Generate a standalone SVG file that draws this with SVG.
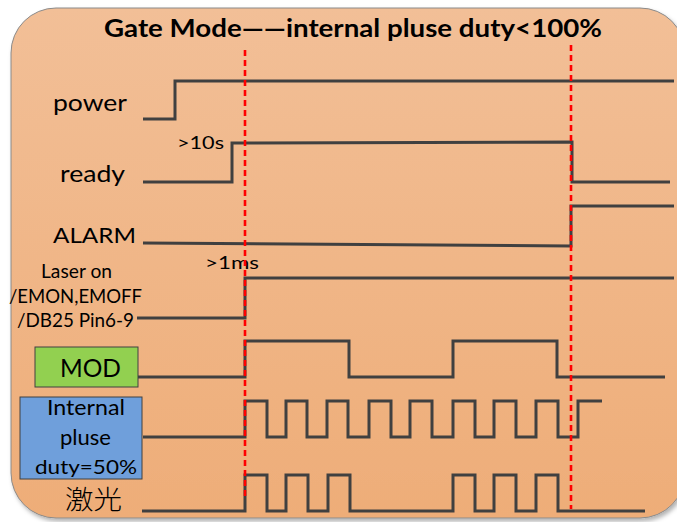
<svg xmlns="http://www.w3.org/2000/svg" width="677" height="522" viewBox="0 0 677 522">
<style>
.sig{fill:none;stroke:#404040;stroke-width:3;stroke-linejoin:miter}
.lbl{font-family:Lato,"Liberation Sans",sans-serif;fill:#000}
.ttl{font-family:Lato,"Liberation Sans",sans-serif;font-weight:bold;fill:#000}
.cjk{font-family:"Noto Sans CJK SC","Noto Sans CJK JP",serif;font-weight:300;fill:#000}
.mark{stroke:#FF0000;stroke-width:2.6;stroke-dasharray:6 4;fill:none}
.box{stroke:#404040;stroke-width:1}
</style>
<defs>
<linearGradient id="bg" x1="0" y1="0" x2="0" y2="1">
<stop offset="0" stop-color="#F2BF97"/>
<stop offset="1" stop-color="#EEAD78"/>
</linearGradient>
<filter id="sh" x="-5%" y="-5%" width="110%" height="110%">
<feDropShadow dx="2" dy="3" stdDeviation="2" flood-color="#000" flood-opacity="0.3"/>
</filter>
</defs>
<rect width="677" height="522" fill="#fff"/>
<rect id="panel" x="11" y="8" width="674" height="510" rx="45" ry="45" fill="url(#bg)" stroke="#8A8A8A" stroke-width="1" filter="url(#sh)"/>
<text id="title" class="ttl" x="104" y="37" font-size="25" textLength="498" lengthAdjust="spacingAndGlyphs">Gate Mode——internal pluse duty&lt;100%</text>

<g id="power">
<text class="lbl" x="53" y="111" font-size="23" textLength="74" lengthAdjust="spacingAndGlyphs">power</text>
<path class="sig" d="M143,119 H175 V81 H674"/>
</g>
<g id="ready">
<text class="lbl" x="60" y="182" font-size="23" textLength="65" lengthAdjust="spacingAndGlyphs">ready</text>
<text class="lbl" x="177" y="149" font-size="17.5" textLength="47" lengthAdjust="spacingAndGlyphs">&gt;10s</text>
<path class="sig" d="M143,182 H232 V143 L572,142 V182 H670"/>
</g>
<g id="alarm">
<text class="lbl" x="53" y="243" font-size="22" textLength="83" lengthAdjust="spacingAndGlyphs">ALARM</text>
<path class="sig" d="M143,243 L571,246 V206 H674"/>
</g>
<g id="laser-on">
<text class="lbl" x="41" y="278" font-size="19.5" textLength="71" lengthAdjust="spacingAndGlyphs">Laser on</text>
<text class="lbl" x="9" y="303" font-size="20" textLength="133" lengthAdjust="spacingAndGlyphs">/EMON,EMOFF</text>
<text class="lbl" x="17" y="327" font-size="20" textLength="117" lengthAdjust="spacingAndGlyphs">/DB25 Pin6-9</text>
<text class="lbl" x="205" y="269" font-size="17.5" textLength="54" lengthAdjust="spacingAndGlyphs">&gt;1ms</text>
<path class="sig" d="M137,318 H245 V278 H674"/>
</g>
<g id="mod">
<rect class="box" x="35" y="347" width="103" height="40" fill="#92D050"/>
<text class="lbl" x="60" y="377" font-size="24.5" textLength="61" lengthAdjust="spacingAndGlyphs">MOD</text>
<path class="sig" d="M138,377 H245 V341 H349 V377 H453 V341 H557 V377 H665"/>
</g>
<g id="internal-pulse">
<rect class="box" x="20" y="397" width="122" height="82" fill="#6F9FDB"/>
<text class="lbl" x="47" y="415" font-size="21" textLength="78" lengthAdjust="spacingAndGlyphs">Internal</text>
<text class="lbl" x="60" y="445" font-size="21" textLength="51" lengthAdjust="spacingAndGlyphs">pluse</text>
<text class="lbl" x="35" y="474" font-size="20" textLength="102" lengthAdjust="spacingAndGlyphs">duty=50%</text>
<path class="sig" d="M143,437 H245 V401 H267 V437 H286 V401 H307 V437 H327 V401 H348 V437 H369 V401 H391 V437 H410 V401 H432 V437 H453 V401 H475 V437 H494 V401 H516 V437 H536 V401 H558 V437 H578 V401 H602"/>
</g>
<g id="laser">
<text class="cjk" x="65" y="509" font-size="26" textLength="57" lengthAdjust="spacingAndGlyphs">激光</text>
<path class="sig" d="M142,511 H245 V475 H267 V511 H286 V475 H308 V511 H328 V475 H350 V511 H453 V475 H475 V511 H494 V475 H516 V511 H536 V475 H558 V511 H645"/>
</g>
<g id="markers">
<line class="mark" x1="245" y1="50" x2="245" y2="498"/>
<line class="mark" x1="571" y1="45" x2="571" y2="509"/>
</g>
</svg>
